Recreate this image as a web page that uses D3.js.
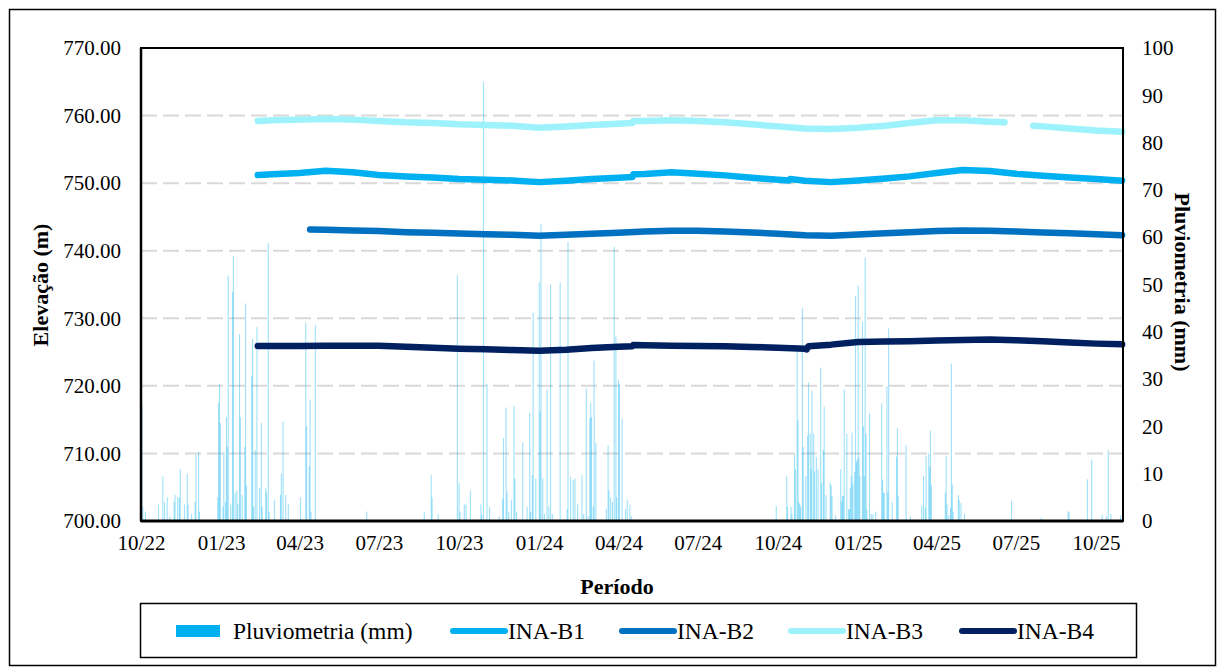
<!DOCTYPE html>
<html>
<head>
<meta charset="utf-8">
<script src="https://cdn.jsdelivr.net/npm/d3@7"></script>
<style>
  body { margin: 0; background: #fff; }
  svg { display: block; font-family: "Liberation Serif", "Times New Roman", serif; }
</style>
</head>
<body>
<script>
// dimensions du graphique
var W = 1219, H = 668
var m = { left: 141, top: 48, right: 96, bottom: 147 }
var pw = W - m.left - m.right, ph = H - m.top - m.bottom

// pluviometria (mm) - dias com chuva
const rainDates = [
  "2022-10-02","2022-10-03","2022-10-06","2022-10-21","2022-10-26","2022-10-28","2022-10-31","2022-11-03",
  "2022-11-08","2022-11-09","2022-11-12","2022-11-14","2022-11-15","2022-11-20","2022-11-23","2022-11-24",
  "2022-11-28","2022-12-02","2022-12-03","2022-12-06","2022-12-07","2022-12-28","2022-12-29","2022-12-30",
  "2022-12-31","2023-01-03","2023-01-04","2023-01-06","2023-01-07","2023-01-08","2023-01-09","2023-01-12",
  "2023-01-14","2023-01-15","2023-01-17","2023-01-19","2023-01-20","2023-01-22","2023-01-23","2023-01-25",
  "2023-01-28","2023-01-29","2023-01-30","2023-02-05","2023-02-06","2023-02-07","2023-02-09","2023-02-11",
  "2023-02-14","2023-02-16","2023-02-17","2023-02-21","2023-02-22","2023-02-24","2023-02-25","2023-03-03",
  "2023-03-10","2023-03-11","2023-03-13","2023-03-16","2023-03-19","2023-04-02","2023-04-08","2023-04-09",
  "2023-04-12","2023-04-13","2023-04-14","2023-04-19","2023-06-17","2023-08-22","2023-08-30","2023-08-31",
  "2023-09-07","2023-09-29","2023-10-01","2023-10-02","2023-10-07","2023-10-09","2023-10-14","2023-10-26",
  "2023-10-27","2023-10-29","2023-11-02","2023-11-05","2023-11-16","2023-11-20","2023-11-21","2023-11-24",
  "2023-11-25","2023-11-27","2023-11-30","2023-12-03","2023-12-04","2023-12-06","2023-12-13","2023-12-18",
  "2023-12-21","2023-12-22","2023-12-24","2023-12-25","2023-12-28","2024-01-01","2024-01-02","2024-01-03",
  "2024-01-05","2024-01-07","2024-01-10","2024-01-12","2024-01-14","2024-01-16","2024-01-25","2024-02-02",
  "2024-02-03","2024-02-06","2024-02-09","2024-02-11","2024-02-14","2024-02-19","2024-02-21","2024-02-24",
  "2024-02-26","2024-02-28","2024-02-29","2024-03-01","2024-03-03","2024-03-04","2024-03-06","2024-03-18",
  "2024-03-20","2024-03-21","2024-03-23","2024-03-25","2024-03-27","2024-03-29","2024-03-30","2024-04-01",
  "2024-04-02","2024-04-05","2024-04-09","2024-04-11","2024-04-14","2024-04-16","2024-09-29","2024-10-11",
  "2024-10-12","2024-10-16","2024-10-17","2024-10-20","2024-10-21","2024-10-23","2024-10-24","2024-10-25",
  "2024-10-26","2024-10-27","2024-10-29","2024-10-30","2024-11-02","2024-11-04","2024-11-05","2024-11-07",
  "2024-11-08","2024-11-09","2024-11-11","2024-11-12","2024-11-14","2024-11-16","2024-11-19","2024-11-20",
  "2024-11-22","2024-11-23","2024-11-25","2024-11-30","2024-12-01","2024-12-02","2024-12-06","2024-12-12",
  "2024-12-13","2024-12-14","2024-12-15","2024-12-16","2024-12-19","2024-12-21","2024-12-22","2024-12-23",
  "2024-12-24","2024-12-25","2024-12-26","2024-12-28","2024-12-29","2024-12-30","2024-12-31","2025-01-01",
  "2025-01-02","2025-01-03","2025-01-06","2025-01-07","2025-01-08","2025-01-09","2025-01-10","2025-01-11",
  "2025-01-14","2025-01-16","2025-01-18","2025-01-21","2025-01-28","2025-01-29","2025-01-30","2025-01-31",
  "2025-02-03","2025-02-04","2025-02-05","2025-02-09","2025-02-14","2025-02-15","2025-02-16","2025-02-25",
  "2025-03-02","2025-03-15","2025-03-17","2025-03-19","2025-03-20","2025-03-23","2025-03-24","2025-03-25",
  "2025-03-26","2025-04-11","2025-04-12","2025-04-13","2025-04-15","2025-04-17","2025-04-18","2025-04-19",
  "2025-04-20","2025-04-26","2025-04-27","2025-04-29","2025-05-03","2025-06-26","2025-07-30","2025-08-30",
  "2025-08-31","2025-09-21","2025-09-26","2025-10-08","2025-10-13","2025-10-15","2025-10-18","2025-10-29"
]
const rainMm = [
  24.7,3,2,3.5,9.4,4,5,1,
  4,5.6,5,5,11,3.5,10,3.5,
  1.5,4,14,14.6,2,5,25,29,
  20.7,3,14.6,4,22,15.7,51.9,3.5,
  48.5,56,6,6.5,3.5,39.5,22,5.5,
  15.7,46,7.5,30.7,38.5,3,15,41,
  7,20.7,3,7,6,58.7,2,4.5,
  5.5,10,21,5.5,3.5,5,42,20,
  11.5,25.7,2,41.4,2,2,9.7,5,
  1.5,52,8,2,3.5,3.5,6.5,3.5,
  1.3,92.9,29,3,1,4.7,17.5,24,
  6,2,4.5,24.3,9,2,16.6,3,
  22.9,2,9.7,44,9,50.5,23,62.7,
  9,1.5,27.8,3,50,1.5,50.4,2.5,
  59,9.4,8.7,9,3.5,9.7,1.5,28,
  1,21.7,25,22,3,33.9,16.5,2.5,
  16,6.5,5,4,58,39,5,29.8,
  29,21.7,2.5,4.5,3.5,1,3.2,9.5,
  3,3,1.5,14,11,36,21.3,4,
  3.5,3,45,15.6,9.5,18,29.3,18.5,
  11,27.5,18.5,10.5,13.5,11,32.4,8,
  15,24.2,5.5,8.2,7.5,5.3,1.2,11,
  4,5.3,5.3,27.8,18.5,2.5,2.5,7,
  9.5,18.7,8,10.4,47.6,12.5,13,49.7,
  13.5,9.5,42.1,20,9.5,55.7,18.5,2.5,
  22.8,1.5,1.5,2,24.9,8.8,6,6,
  28.5,6,40.7,4,13.6,19.6,5.3,16,
  1,3.2,9.5,2.8,13.7,14.3,11.4,19.1,
  7.6,6,13.8,3.5,1.2,2.8,33.3,7.7,
  2,5.5,4.5,3.8,1.5,4.3,0.7,2,
  2,8.8,13,1.3,1,15,1.5,1.2
]

// niveis dos instrumentos (m) - null = sem leitura
const inaB1 = [
  ["2023-02-12",751.2],["2023-03-01",751.3],["2023-04-01",751.5],["2023-05-01",751.85],["2023-06-01",751.6],
  ["2023-07-01",751.2],["2023-08-01",751.0],["2023-09-01",750.85],["2023-10-01",750.6],["2023-11-01",750.5],
  ["2023-12-01",750.4],["2024-01-01",750.15],["2024-02-01",750.35],["2024-03-01",750.6],["2024-04-01",750.8],
  ["2024-04-17",750.9],["2024-04-18",751.3],["2024-05-01",751.35],["2024-06-01",751.6],["2024-07-01",751.4],
  ["2024-08-01",751.15],["2024-09-01",750.8],["2024-10-01",750.5],["2024-10-14",750.4],["2024-10-15",750.6],
  ["2024-11-01",750.35],["2024-12-01",750.15],["2025-01-01",750.4],["2025-02-01",750.7],["2025-03-01",751.0],
  ["2025-04-01",751.5],["2025-05-01",751.95],["2025-06-01",751.8],["2025-07-01",751.4],["2025-08-01",751.1],
  ["2025-09-01",750.85],["2025-10-01",750.6],["2025-10-31",750.35]
]
const inaB2 = [
  ["2023-04-13",743.15],["2023-05-01",743.1],["2023-06-01",743.0],["2023-07-01",742.9],["2023-08-01",742.75],
  ["2023-09-01",742.65],["2023-10-01",742.55],["2023-11-01",742.45],["2023-12-01",742.35],["2024-01-01",742.2],
  ["2024-02-01",742.35],["2024-03-01",742.5],["2024-04-01",742.65],["2024-05-01",742.85],["2024-06-01",742.95],
  ["2024-07-01",742.95],["2024-08-01",742.85],["2024-09-01",742.7],["2024-10-01",742.5],["2024-11-01",742.3],
  ["2024-12-01",742.2],["2025-01-01",742.4],["2025-02-01",742.6],["2025-03-01",742.75],["2025-04-01",742.9],
  ["2025-05-01",743.0],["2025-06-01",742.95],["2025-07-01",742.85],["2025-08-01",742.7],["2025-09-01",742.6],
  ["2025-10-01",742.45],["2025-10-31",742.3]
]
const inaB3 = [
  ["2023-02-12",759.2],["2023-03-01",759.3],["2023-04-01",759.4],["2023-05-01",759.5],["2023-06-01",759.4],
  ["2023-07-01",759.2],["2023-08-01",759.0],["2023-09-01",758.9],["2023-10-01",758.7],["2023-11-01",758.6],
  ["2023-12-01",758.5],["2024-01-01",758.2],["2024-02-01",758.4],["2024-03-01",758.6],["2024-04-01",758.8],
  ["2024-04-17",758.9],["2024-04-18",759.2],["2024-05-01",759.2],["2024-06-01",759.3],["2024-07-01",759.2],
  ["2024-08-01",759.0],["2024-09-01",758.7],["2024-10-01",758.4],["2024-11-01",758.1],["2024-12-01",758.0],
  ["2025-01-01",758.2],["2025-02-01",758.5],["2025-03-01",758.9],["2025-04-01",759.3],["2025-05-01",759.3],
  ["2025-06-01",759.1],["2025-06-18",759.0],["2025-06-19",null],["2025-07-20",null],["2025-07-21",758.5],
  ["2025-08-01",758.4],["2025-09-01",758.1],["2025-10-01",757.8],["2025-10-31",757.6]
]
const inaB4 = [
  ["2023-02-12",725.9],["2023-03-01",725.9],["2023-04-01",725.9],["2023-05-01",725.95],["2023-06-01",725.95],
  ["2023-07-01",725.95],["2023-08-01",725.8],["2023-09-01",725.65],["2023-10-01",725.5],["2023-11-01",725.4],
  ["2023-12-01",725.3],["2024-01-01",725.2],["2024-02-01",725.35],["2024-03-01",725.6],["2024-04-01",725.8],
  ["2024-04-17",725.85],["2024-04-18",726.05],["2024-05-01",726.0],["2024-06-01",725.95],["2024-07-01",725.9],
  ["2024-08-01",725.85],["2024-09-01",725.75],["2024-10-01",725.65],["2024-11-01",725.5],["2024-11-03",725.4],
  ["2024-11-05",725.85],["2024-12-01",726.1],["2025-01-01",726.5],["2025-02-01",726.55],["2025-03-01",726.6],
  ["2025-04-01",726.7],["2025-05-01",726.8],["2025-06-01",726.85],["2025-07-01",726.75],["2025-08-01",726.6],
  ["2025-09-01",726.4],["2025-10-01",726.25],["2025-10-31",726.15]
]

const series = [
  { name: "INA-B1", data: inaB1, color: "#00B0F0" },
  { name: "INA-B2", data: inaB2, color: "#0070C0" },
  { name: "INA-B3", data: inaB3, color: "#9DF2FB" },
  { name: "INA-B4", data: inaB4, color: "#002060" }
]
const elevTicks = [700, 710, 720, 730, 740, 750, 760, 770]
const rainTicks = [0, 10, 20, 30, 40, 50, 60, 70, 80, 90, 100]

var parse = d3.timeParse("%Y-%m-%d")

var x = d3.scaleTime()
  .domain([parse("2022-10-01"), parse("2025-11-01")])
  .range([0, pw])
var yL = d3.scaleLinear().domain([700, 770]).range([ph, 0])
var yR = d3.scaleLinear().domain([0, 100]).range([ph, 0])

var svg = d3.select("body").append("svg")
  .attr("width", W).attr("height", H)

// cadre exterieur
svg.append("rect")
  .attr("x", 9.5).attr("y", 9.5).attr("width", 1206).attr("height", 656)
  .attr("fill", "none").attr("stroke", "#000").attr("stroke-width", 1.5)

var g = svg.append("g").attr("transform", "translate(" + m.left + "," + m.top + ")")

// grille
g.append("g").selectAll("line")
  .data(elevTicks.filter(function(v) { return v > 700 && v < 770 }))
  .enter().append("line")
  .attr("x1", 0).attr("x2", pw)
  .attr("y1", function(d) { return yL(d) }).attr("y2", function(d) { return yL(d) })
  .attr("stroke", "#D9D9D9").attr("stroke-width", 2)
  .attr("stroke-dasharray", "16,6")

// barres de pluie
g.append("g").selectAll("rect")
  .data(rainDates.map(function(d, i) { return { date: parse(d), v: rainMm[i] } }))
  .enter().append("rect")
  .attr("x", function(d) { return x(d.date) - 0.5 })
  .attr("width", 1.1)
  .attr("y", function(d) { return yR(d.v) })
  .attr("height", function(d) { return ph - yR(d.v) })
  .attr("fill", "#00B0F0")
  .attr("fill-opacity", 0.38)

// courbes des niveaux
var line = d3.line()
  .defined(function(d) { return d[1] !== null })
  .x(function(d) { return x(parse(d[0])) })
  .y(function(d) { return yL(d[1]) })

g.append("g").selectAll("path")
  .data(series)
  .enter().append("path")
  .attr("d", function(s) { return line(s.data) })
  .attr("fill", "none")
  .attr("stroke", function(s) { return s.color })
  .attr("stroke-width", 6.5)
  .attr("stroke-linecap", "round")
  .attr("stroke-linejoin", "round")

// cadre du graphique
g.append("rect")
  .attr("x", 0).attr("y", 0).attr("width", pw).attr("height", ph)
  .attr("fill", "none").attr("stroke", "#000").attr("stroke-width", 2)
g.append("line")
  .attr("x1", 0).attr("x2", pw).attr("y1", ph).attr("y2", ph)
  .attr("stroke", "#000").attr("stroke-width", 3)
g.append("line")
  .attr("x1", 0).attr("x2", 0).attr("y1", 0).attr("y2", ph)
  .attr("stroke", "#000").attr("stroke-width", 2.5)

// axes
var axL = g.append("g")
  .call(d3.axisLeft(yL).tickValues(elevTicks).tickSize(0).tickPadding(20).tickFormat(d3.format(".2f")))
var axR = g.append("g").attr("transform", "translate(" + pw + ",0)")
  .call(d3.axisRight(yR).tickValues(rainTicks).tickSize(0).tickPadding(19).tickFormat(d3.format("d")))
var axB = g.append("g").attr("transform", "translate(0," + ph + ")")
  .call(d3.axisBottom(x).ticks(d3.timeMonth.every(3)).tickSize(0).tickPadding(14).tickFormat(d3.timeFormat("%m/%y")))

;[axL, axR, axB].forEach(function(a) {
  a.select(".domain").remove()
  a.selectAll("text").attr("font-family", "Liberation Serif").attr("font-size", 21).attr("fill", "#000")
})

// titres des axes
svg.append("text")
  .attr("transform", "translate(40,285) rotate(-90)")
  .attr("dy", "0.35em").attr("text-anchor", "middle")
  .attr("font-size", 22).attr("font-weight", "bold")
  .text("Elevação (m)")
svg.append("text")
  .attr("transform", "translate(1183,282) rotate(90)")
  .attr("dy", "0.35em").attr("text-anchor", "middle")
  .attr("font-size", 22).attr("font-weight", "bold")
  .text("Pluviometria (mm)")
svg.append("text")
  .attr("x", 617).attr("y", 594).attr("text-anchor", "middle")
  .attr("font-size", 22).attr("font-weight", "bold")
  .text("Período")

// legende
var leg = svg.append("g")
leg.append("rect")
  .attr("x", 140.5).attr("y", 603.5).attr("width", 996).attr("height", 54)
  .attr("fill", "#fff").attr("stroke", "#000").attr("stroke-width", 1.5)
leg.append("rect")
  .attr("x", 176).attr("y", 625).attr("width", 44).attr("height", 12)
  .attr("fill", "#00B0F0")
leg.append("text").attr("x", 233).attr("y", 639).attr("font-size", 23.5).text("Pluviometria (mm)")

var legX = [453, 622, 791, 962]
series.forEach(function(s, i) {
  leg.append("line")
    .attr("x1", legX[i]).attr("x2", legX[i] + 52).attr("y1", 631).attr("y2", 631)
    .attr("stroke", s.color).attr("stroke-width", 6).attr("stroke-linecap", "round")
  leg.append("text").attr("x", legX[i] + 55).attr("y", 639).attr("font-size", 23.5).text(s.name)
})
</script>
</body>
</html>
